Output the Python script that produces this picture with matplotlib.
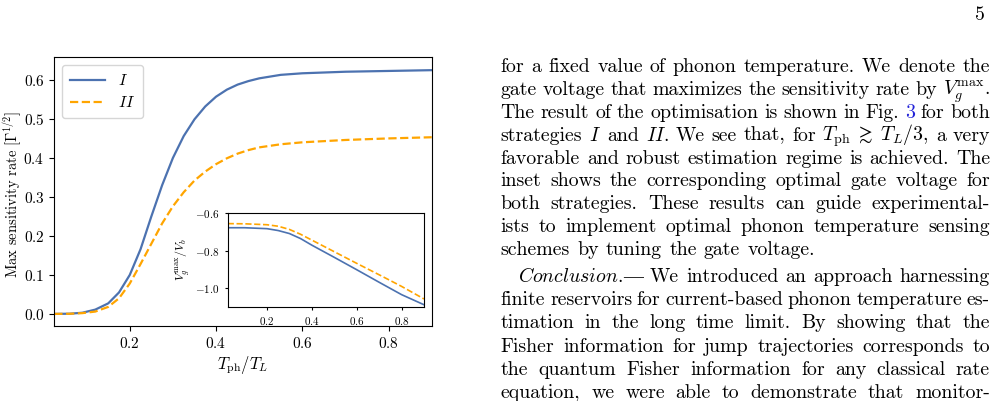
"""Max sensitivity rate vs phonon temperature, with inset of optimal gate voltage, plus page text"""

import matplotlib

matplotlib.use('Agg')
import matplotlib.pyplot as plt

plt.rcParams['font.family'] = ['cmr10', 'DejaVu Serif']
plt.rcParams['mathtext.fontset'] = 'cm'
plt.rcParams['axes.formatter.use_mathtext'] = True
plt.rcParams['axes.unicode_minus'] = True

# main panel: max sensitivity rate for strategies I and II
t_main = [0.025, 0.06, 0.09, 0.12, 0.15, 0.175, 0.2, 0.225, 0.25, 0.275, 0.3, 0.325,
          0.35, 0.375, 0.4, 0.425, 0.45, 0.475, 0.5, 0.55, 0.6, 0.7, 0.8, 0.9]
rate_I = [0.0, 0.0005, 0.003, 0.011, 0.027, 0.055, 0.100, 0.166, 0.250, 0.330, 0.400, 0.456,
          0.499, 0.532, 0.557, 0.575, 0.588, 0.597, 0.604, 0.613, 0.617, 0.621, 0.623, 0.625]
rate_II = [0.0, 0.0003, 0.002, 0.006, 0.018, 0.040, 0.078, 0.128, 0.180, 0.232, 0.276, 0.312,
           0.342, 0.365, 0.384, 0.399, 0.411, 0.420, 0.427, 0.435, 0.440, 0.446, 0.450, 0.453]

# inset: optimal gate voltage V_g^max / V_b
t_inset = [0.025, 0.1, 0.2, 0.25, 0.3, 0.35, 0.4, 0.5, 0.6, 0.7, 0.8, 0.9]
vg_I = [-0.677, -0.677, -0.682, -0.692, -0.708, -0.735, -0.770, -0.835, -0.901, -0.968, -1.034, -1.088]
vg_II = [-0.655, -0.656, -0.661, -0.669, -0.686, -0.712, -0.743, -0.805, -0.867, -0.928, -0.990, -1.057]

labels = ['$I$', '$II$']
c_I, c_II = '#4C72B0', '#FFA500'

W, H = 996, 401
fig = plt.figure(figsize=(W / 100, H / 100), dpi=100)


def px_axes(x0, y0, x1, y1):
    return fig.add_axes([x0 / W, 1 - y1 / H, (x1 - x0) / W, (y1 - y0) / H])


ax = px_axes(54.3, 57.3, 431.7, 326)
ax.plot(t_main, rate_I, color=c_I, lw=1.6, label=labels[0])
ax.plot(t_main, rate_II, color=c_II, lw=1.6, ls='--', label=labels[1])
ax.set_xlim(0.025, 0.9)
ax.set_ylim(-0.031, 0.658)
ax.set_xticks([0.2, 0.4, 0.6, 0.8])
ax.set_yticks([0.0, 0.1, 0.2, 0.3, 0.4, 0.5, 0.6])
ax.tick_params(labelsize=11)
ax.set_xlabel(r'$T_{\rm ph}/T_L$', fontsize=12, labelpad=2)
ax.set_ylabel(r'Max sensitivity rate [$\Gamma^{1/2}$]', fontsize=10.5)
ax.yaxis.set_label_coords(-0.083, 0.49)
ax.legend(loc='upper left', fontsize=11.5, handlelength=2.2, borderpad=0.5, labelspacing=0.45)

ins = px_axes(227.7, 213.3, 424, 307)
ins.plot(t_inset, vg_I, color=c_I, lw=1.2)
ins.plot(t_inset, vg_II, color=c_II, lw=1.2, ls='--')
ins.set_xlim(0.025, 0.9)
ins.set_ylim(-1.1, -0.6)
ins.set_xticks([0.2, 0.4, 0.6, 0.8])
ins.set_yticks([-0.6, -0.8, -1.0])
ins.tick_params(labelsize=8, length=2.5)
ins.set_ylabel(r'$V_g^{\rm max}/V_b$', fontsize=8.5, labelpad=2)

# ---- page text on the right ----
FS = 14.3
renderer = fig.canvas.get_renderer()


def put_line(words, y, x0=500.7, x1=990.0, justify=True):
    # each word is a list of (text, kwargs) segments glued together
    placed = []
    for w in words:
        segs = []
        for s, kw in w:
            t = fig.text(x0 / W, 1 - y / H, s, fontsize=FS, va='baseline', ha='left', **kw)
            segs.append((t, t.get_window_extent(renderer).width))
        placed.append(segs)
    widths = [sum(wd for _, wd in segs) for segs in placed]
    if justify and len(placed) > 1:
        gap = (x1 - x0 - sum(widths)) / (len(placed) - 1)
    else:
        gap = 0.36 * FS * 100 / 72
    x = x0
    for segs in placed:
        for t, wd in segs:
            t.set_x(x / W)
            x += wd
        x += gap


def words_of(line):
    out = []
    for w in line.split(' '):
        if w == '3':
            out.append([(w, {'color': '#2323d8'})])
        elif w.startswith('EMDASH'):
            out.append([(r'$\mathit{Conclusion.}$', {}), ('\u2014', {'family': 'Liberation Serif'})])
        else:
            out.append([(w, {})])
    return out


lines = [
    "for a fixed value of phonon temperature. We denote the",
    r"gate voltage that maximizes the sensitivity rate by $V_g^{\mathrm{max}}$.",
    "The result of the optimisation is shown in Fig. 3 for both",
    r"strategies $I$ and $II$. We see that, for $T_{\mathrm{ph}}\;\gtrsim\;T_L/3$, a very",
    "favorable and robust estimation regime is achieved. The",
    "inset shows the corresponding optimal gate voltage for",
    "both strategies. These results can guide experimental-",
    "ists to implement optimal phonon temperature sensing",
    "schemes by tuning the gate voltage.",
]
lines2 = [
    "EMDASH We introduced an approach harnessing",
    "finite reservoirs for current-based phonon temperature es-",
    "timation in the long time limit. By showing that the",
    "Fisher information for jump trajectories corresponds to",
    "the quantum Fisher information for any classical rate",
    "equation, we were able to demonstrate that monitor-",
]

y = 71.7
for i, ln in enumerate(lines):
    put_line(words_of(ln), y, justify=(i != len(lines) - 1))
    y += 22.95
y = 281.7
for i, ln in enumerate(lines2):
    put_line(words_of(ln), y, x0=(518.3 if i == 0 else 500.7))
    y += 23.3

fig.text(985 / W, 1 - 20 / H, '5', fontsize=FS, va='baseline', ha='right')

fig.savefig('out.png', dpi=100)
